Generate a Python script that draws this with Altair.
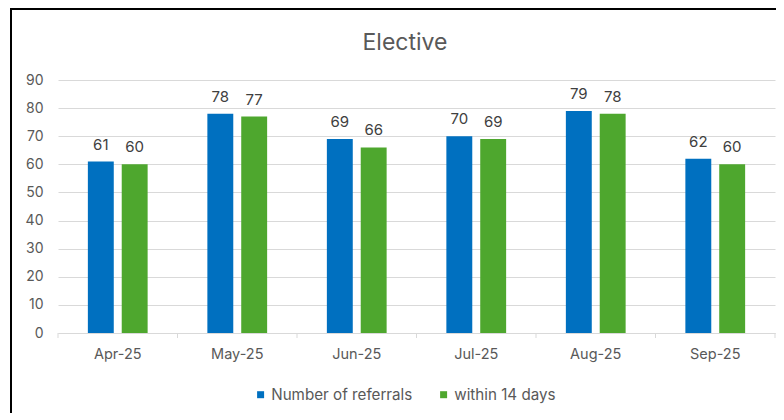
import altair as alt
import pandas as pd

months = ["Apr-25", "May-25", "Jun-25", "Jul-25", "Aug-25", "Sep-25"]
series = ["Number of referrals", "within 14 days"]
referrals = [61, 78, 69, 70, 79, 62]
within14 = [60, 77, 66, 69, 78, 60]
colors = ["#0070C0", "#4EA72E"]

rows = []
for i, m in enumerate(months):
    rows.append({"month": m, "series": series[0], "value": referrals[i]})
    rows.append({"month": m, "series": series[1], "value": within14[i]})
df = pd.DataFrame(rows)

W, H = 717, 253
FONT = "Inter"
GRID = "#d9d9d9"
TXT = "#595959"

x = alt.X("month:N", sort=months,
          scale=alt.Scale(paddingInner=0, paddingOuter=0),
          axis=alt.Axis(title=None, labelAngle=0, ticks=False, grid=False,
                        domainColor=GRID, labelColor=TXT, labelFontSize=14.5,
                        labelPadding=14, labelFont=FONT))
xoff = alt.XOffset("series:N", sort=series,
                   scale=alt.Scale(paddingInner=0.235, paddingOuter=0.882))
y = alt.Y("value:Q", scale=alt.Scale(domain=[0, 90]),
          axis=alt.Axis(title=None, values=list(range(0, 100, 10)), grid=True,
                        gridColor=GRID, domain=False, ticks=False,
                        labelColor=TXT, labelFontSize=14, labelPadding=15,
                        labelFont=FONT))
color = alt.Color("series:N", sort=series,
                  scale=alt.Scale(domain=series, range=colors),
                  legend=alt.Legend(title=None, orient="none", direction="horizontal",
                                    legendX=195, legendY=307, symbolType="square",
                                    symbolSize=49, symbolStrokeWidth=0,
                                    labelFontSize=15.2, labelColor=TXT, labelFont=FONT,
                                    columnPadding=23, labelOffset=3, padding=0))

base = alt.Chart(df)
bars = base.mark_bar().encode(x=x, xOffset=xoff, y=y, color=color)
labels = base.mark_text(dy=-12, baseline="alphabetic", fontSize=15, color="#404040",
                        font=FONT).encode(x=x, xOffset=xoff, y=y, text="value:Q")

tick_df = pd.DataFrame({"month": months})
ticks = alt.Chart(tick_df).mark_rule(color=GRID, strokeWidth=1).encode(
    x=alt.X("month:N", sort=months, bandPosition=0),
    y=alt.value(H), y2=alt.value(H + 5))
last_tick = alt.Chart(tick_df.head(1)).mark_rule(color=GRID, strokeWidth=1).encode(
    x=alt.value(W), y=alt.value(H), y2=alt.value(H + 5))

one = pd.DataFrame({"a": [0]})
title = alt.Chart(one).mark_text(fontSize=23, color=TXT, font=FONT, baseline="alphabetic",
                                 align="center").encode(
    x=alt.value(347), y=alt.value(-30), text=alt.value("Elective"))
border_left = alt.Chart(one).mark_rule(color="black", strokeWidth=2).encode(
    x=alt.value(-47), y=alt.value(-71), y2=alt.value(345))
border_top = alt.Chart(one).mark_rule(color="black", strokeWidth=2).encode(
    x=alt.value(-48), x2=alt.value(W + 10), y=alt.value(-71))

chart = alt.layer(bars, labels, ticks, last_tick, title, border_left, border_top).properties(
    width=W, height=H,
    autosize=alt.AutoSizeParams(type="none"),
    padding={"left": 50, "top": 72, "right": 1, "bottom": 80},
).configure_view(stroke=None)

chart.save("out.html", embed_options={"renderer": "svg", "actions": False})
